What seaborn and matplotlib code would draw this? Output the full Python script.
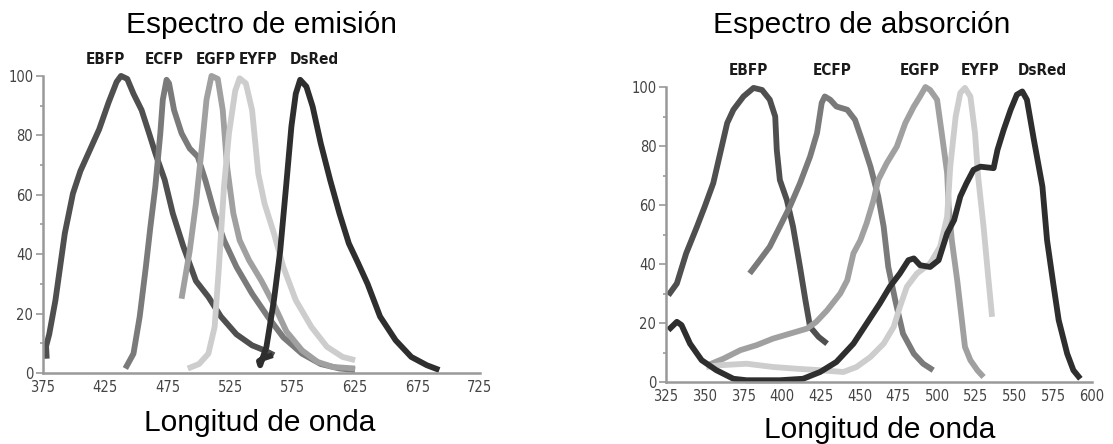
import matplotlib
matplotlib.use('Agg')
import matplotlib.pyplot as plt
import seaborn as sns
from matplotlib.ticker import MultipleLocator

sns.set_theme(style='white')
plt.rcParams['font.family'] = ['Liberation Sans', 'DejaVu Sans']

names = ['EBFP', 'ECFP', 'EGFP', 'EYFP', 'DsRed']
colors = ['#4f4f4f', '#7a7a7a', '#a0a0a0', '#cdcdcd', '#2e2e2e']

# emission spectra
em_ebfp_x = [378, 377.5, 380, 385, 392.5, 399, 405, 412.5, 420, 427.5, 434, 437.5, 442.5, 447.5, 454, 460, 465,
             472.5, 479, 487.5, 497.5, 507.5, 517.5, 530, 542.5, 552.5, 560]
em_ebfp_y = [4.8, 9, 13, 24.5, 47, 60.4, 68, 75, 82, 91, 98, 100, 99, 94, 88.5, 80.7, 74,
             65, 53.7, 42.5, 31, 25.6, 19, 13, 9.3, 7.6, 6]
em_ecfp_x = [441, 447.5, 452.5, 457.5, 461, 465, 469, 471, 474, 476, 480, 486, 492.5, 499, 505, 512.5, 520,
             530, 542.5, 555, 567.5, 582.5, 597.5, 612.5, 625]
em_ecfp_y = [1.5, 6.5, 19, 36, 49, 62.7, 80.7, 92, 98.7, 97.5, 88.5, 80.7, 75.6, 72.8, 65, 53.7, 44.7,
             35.7, 26.7, 19, 12, 6.5, 3, 1.5, 1]
em_egfp_x = [486, 492.5, 497.5, 502.5, 506, 510, 515, 519, 522.5, 527.5, 532.5, 540, 550, 560, 570, 582.5,
             595, 607.5, 625]
em_egfp_y = [25, 41, 57, 77, 92, 100, 99, 88.5, 69.4, 53.7, 44.7, 38, 31, 23, 14, 7.6, 3.7, 2, 1.5]
em_eyfp_x = [491, 500, 507.5, 512.5, 516, 520, 524, 529, 532.5, 537.5, 542.5, 547.5, 552.5, 560, 567.5, 577.5,
             590, 602.5, 615, 625]
em_eyfp_y = [1.5, 3, 6.5, 15.5, 36, 62.7, 80.7, 95, 99.2, 97.5, 88.5, 67, 57, 47, 35.7, 24.5,
             15.5, 8.8, 5.4, 4.3]
em_dsred_x = [559, 552, 548, 549, 554, 560, 565, 570, 574, 577.5, 581, 586, 591, 597.5, 605, 612.5, 620, 627.5,
              635, 645, 657.5, 670, 682.5, 692.5]
em_dsred_y = [6, 5, 4, 2.6, 8.8, 24.5, 41, 64, 83, 94, 98.7, 96.4, 89.7, 77.3, 65, 53.7, 43.6, 36.9,
              30, 19, 11, 5.4, 2.6, 1]

# absorption spectra
ab_ebfp_x = [326.5, 332, 338, 345, 350, 355.5, 360, 364.5, 368.5, 375, 381.5, 387, 392, 395.5, 396.5, 398.5,
             403, 407, 411.5, 415, 418, 423.5, 429]
ab_ebfp_y = [29.4, 33.4, 43.6, 52.7, 59.5, 67.4, 77.6, 87.8, 92.3, 96.8, 99.7, 99, 95.7, 90, 78.7, 68.5,
             61.7, 52.7, 39, 27.7, 18.7, 15.3, 13]
ab_ecfp_x = [379, 385.5, 392, 398.5, 405, 411.5, 418, 422.5, 425.5, 427.5, 431, 435, 442, 447, 451.5, 457,
             462, 465.5, 468.5, 473, 478, 485, 491, 497.5]
ab_ecfp_y = [36.8, 41.3, 45.9, 52.7, 59.5, 67.4, 76.4, 84.4, 94.6, 96.8, 95.7, 93.4, 92.3, 88.9, 82, 73,
             62.9, 52.7, 39, 27.7, 16.4, 9.6, 6.2, 4]
ab_egfp_x = [352, 362, 373, 383.5, 394, 405, 416, 422, 429, 437.5, 442, 446, 450.5, 454.5, 459, 462, 467.5,
             474, 479.5, 485, 489, 492.5, 495.5, 500, 503, 506.5, 507.5, 509.5, 513, 516, 518, 521.5, 526, 530]
ab_egfp_y = [5.7, 7.9, 10.8, 12.5, 14.7, 16.4, 18.1, 20.4, 24.3, 30, 34.5, 43.6, 48.1, 53.8, 61.7, 68.5, 74.2,
             79.8, 87.8, 93.4, 96.8, 100, 99, 95.7, 84.4, 70.8, 59.5, 48.1, 34.5, 21, 11.9, 7.4, 4, 1.7]
ab_eyfp_x = [351, 360, 377, 394, 409.5, 424.5, 439.5, 448, 457, 465.5, 472, 476, 480.5, 487, 495.5, 502,
             506.5, 508.5, 512, 515, 518, 521.5, 524.5, 526.5, 530, 533, 535.5]
ab_eyfp_y = [5.1, 5.7, 6.2, 5.1, 4.5, 4, 3.4, 5.1, 8.5, 13, 18.7, 25.5, 32.3, 36.8, 40.2, 45.9,
             56, 73, 90, 98, 99.7, 96.8, 84.4, 69.6, 52.7, 35.7, 22.1]
ab_dsred_x = [326.5, 332, 335, 340.5, 348, 357.5, 368.5, 377, 398.5, 413.5, 424.5, 435, 446, 454.5, 463, 469.5,
              476, 481.5, 485, 489, 495.5, 501, 506.5, 511, 515, 519, 523.5, 528, 536.5, 539, 543, 547.5,
              551.5, 555, 558, 562.5, 568, 571, 575, 578.5, 584, 588, 592.5]
ab_dsred_y = [17.6, 20.4, 19.3, 13, 7.4, 4, 1.1, 0.6, 0.6, 1.1, 3.4, 6.8, 13, 19.8, 26.6, 32.3,
              36.8, 41.3, 41.9, 39.6, 39, 41.3, 50.4, 54.9, 62.9, 67.4, 71.9, 73, 72.5, 78.7, 85.5, 92.3,
              97.4, 98.5, 95.7, 82.1, 66.3, 48.1, 33.4, 21, 9.6, 4, 1.1]

em_label_x = [425, 472, 513, 547.5, 592.5]
ab_label_x = [378, 432, 489, 528, 568]

em_xticks = [375, 425, 475, 525, 575, 625, 675, 725]
ab_xticks = [325, 350, 375, 400, 425, 450, 475, 500, 525, 550, 575, 600]
yticks = [0, 20, 40, 60, 80, 100]

emission = [(em_ebfp_x, em_ebfp_y), (em_ecfp_x, em_ecfp_y), (em_egfp_x, em_egfp_y),
            (em_eyfp_x, em_eyfp_y), (em_dsred_x, em_dsred_y)]
absorption = [(ab_ebfp_x, ab_ebfp_y), (ab_ecfp_x, ab_ecfp_y), (ab_egfp_x, ab_egfp_y),
              (ab_eyfp_x, ab_eyfp_y), (ab_dsred_x, ab_dsred_y)]

fig = plt.figure(figsize=(11.13, 4.44), dpi=100)
ax1 = fig.add_axes([0.0386, 0.16, 0.3926, 0.669])
ax2 = fig.add_axes([0.5984, 0.1396, 0.3827, 0.6644])


def draw(ax, curves, label_x, xticks):
    for (xs, ys), c in zip(curves, colors):
        sns.lineplot(x=xs, y=ys, ax=ax, color=c, lw=4.2, sort=False, estimator=None,
                     solid_capstyle='butt', solid_joinstyle='round', clip_on=False)
    for name, lx in zip(names, label_x):
        ax.text(lx, 105.5, name, ha='center', va='center', fontsize=11, fontweight='bold',
                family='DejaVu Sans', fontstretch='condensed', color='#1a1a1a')
    ax.set_xlim(xticks[0], xticks[-1])
    ax.set_ylim(0, 100)
    ax.set_xticks(xticks)
    ax.set_yticks(yticks)
    ax.yaxis.set_minor_locator(MultipleLocator(10))
    for s in ['top', 'right']:
        ax.spines[s].set_visible(False)
    for s in ['left', 'bottom']:
        ax.spines[s].set_color('#999999')
        ax.spines[s].set_linewidth(1.8)
    ax.tick_params(axis='x', direction='in', length=4, width=1.2, color='#999999',
                   labelsize=10.5, labelcolor='#444444', pad=5)
    ax.tick_params(axis='y', which='major', direction='out', length=5, width=1.2, color='#999999',
                   labelsize=10.5, labelcolor='#444444', pad=2, left=True)
    ax.tick_params(axis='y', which='minor', direction='out', length=2, width=1.2, color='#999999', left=True)
    for lab in ax.get_xticklabels() + ax.get_yticklabels():
        lab.set_family('DejaVu Sans')
        lab.set_fontstretch('condensed')
    ax.set_xlabel('')
    ax.set_ylabel('')
    ax.patch.set_alpha(0)


draw(ax1, emission, em_label_x, em_xticks)
draw(ax2, absorption, ab_label_x, ab_xticks)

fig.text(262 / 1113, 1 - 25 / 444, 'Espectro de emisión', ha='center', va='center', fontsize=21.5, color='black')
fig.text(862 / 1113, 1 - 25 / 444, 'Espectro de absorción', ha='center', va='center', fontsize=21.5, color='black')
fig.text(260 / 1113, 1 - 423 / 444, 'Longitud de onda', ha='center', va='center', fontsize=21.5, color='black')
fig.text(880 / 1113, 1 - 430 / 444, 'Longitud de onda', ha='center', va='center', fontsize=21.5, color='black')

fig.savefig('out.png', dpi=100, facecolor='white')
